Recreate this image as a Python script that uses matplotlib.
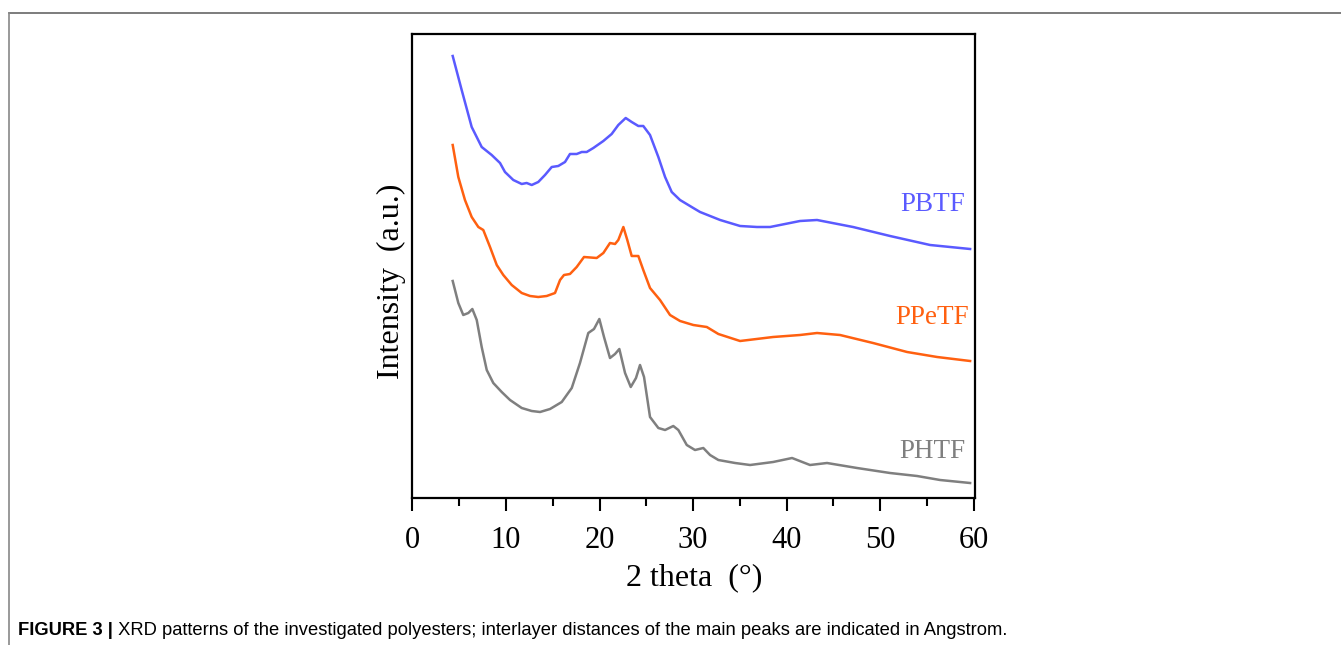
import matplotlib
matplotlib.use("Agg")
import matplotlib.pyplot as plt
from matplotlib.lines import Line2D
import numpy as np

# XRD patterns (2 theta in degrees, intensity in a.u. with offsets)
x_pbtf = [4.30, 5.26, 6.33, 7.40, 8.47, 9.36, 9.89, 10.78, 11.68, 12.21, 12.75, 13.45,
          14.17, 14.89, 15.59, 16.31, 16.84, 17.56, 18.10, 18.63, 19.34, 20.41, 21.30,
          22.01, 22.80, 23.44, 24.15, 24.68, 25.40, 26.29, 27.01, 27.72, 28.61, 30.03,
          30.75, 32.90, 35.03, 36.84, 38.24, 41.44, 43.26, 47.11, 51.07, 55.35, 59.63]
y_pbtf = [442, 408, 371, 351, 343, 335, 326, 318, 314, 315, 313, 316,
          323, 331, 332, 336, 344, 344, 346, 346, 350, 357, 364,
          373, 380, 376, 372, 372, 363, 341, 321, 306, 298, 290,
          286, 278, 272, 271, 271, 277, 278, 271, 262, 253, 249]

x_ppetf = [4.30, 4.90, 5.61, 6.33, 7.04, 7.57, 8.29, 9.01, 9.71, 10.61, 11.68, 12.57,
           13.45, 14.35, 15.24, 15.78, 16.20, 16.84, 17.56, 18.34, 19.70, 20.41, 21.12,
           21.66, 22.01, 22.55, 22.97, 23.44, 24.15, 24.68, 25.40, 26.47, 27.54, 28.61,
           30.03, 31.47, 32.71, 35.03, 38.56, 41.44, 43.26, 45.72, 49.25, 52.89, 56.10,
           59.63]
y_ppetf = [353, 321, 298, 281, 271, 268, 251, 233, 223, 213, 205, 202,
           201, 202, 205, 218, 223, 224, 231, 241, 240, 245, 255,
           254, 258, 271, 258, 242, 242, 228, 210, 198, 183, 177,
           173, 171, 164, 157, 161, 163, 165, 163, 155, 146, 141,
           137]

x_phtf = [4.30, 4.90, 5.43, 5.97, 6.40, 6.87, 7.40, 7.94, 8.64, 9.54, 10.43, 11.68,
          12.75, 13.64, 14.71, 15.96, 17.03, 17.91, 18.80, 19.41, 19.98, 20.48, 21.12,
          21.66, 22.12, 22.73, 23.34, 23.90, 24.33, 24.76, 25.40, 26.29, 27.01, 27.89,
          28.43, 29.33, 30.21, 31.10, 31.82, 32.71, 34.50, 36.10, 38.56, 40.59, 42.51,
          44.33, 47.54, 51.07, 53.96, 56.42, 59.63]
y_phtf = [217, 195, 183, 185, 189, 178, 151, 128, 115, 106, 98, 90,
          87, 86, 89, 96, 110, 135, 165, 169, 179, 161, 140,
          144, 149, 125, 111, 120, 133, 121, 81, 70, 68, 72,
          68, 53, 48, 50, 43, 38, 35, 33, 36, 40, 33,
          35, 30, 25, 22, 18, 15]

names = ["PBTF", "PPeTF", "PHTF"]
colors = ["#5a5aff", "#ff6010", "#7f7f7f"]
label_y = [293, 180, 47]

serif = ["Liberation Serif", "DejaVu Serif"]
sans = ["Liberation Sans", "DejaVu Sans"]

fig = plt.figure(figsize=(13.41, 6.45), dpi=100)
ax = fig.add_axes([0.3076, 0.2279, 0.4198, 0.7194])

for xs, ys, c in zip([x_pbtf, x_ppetf, x_phtf], [y_pbtf, y_ppetf, y_phtf], colors):
    ax.plot(xs, ys, color=c, lw=1.8, solid_joinstyle="round")

for name, c, ly in zip(names, colors, label_y):
    ax.text(55.6, ly, name, color=c, fontsize=19.5, family=serif, ha="center", va="center")

ax.set_xlim(0, 60.2)
ax.set_ylim(0, 464)
ax.set_xticks(np.arange(0, 61, 10))
ax.set_xticks(np.arange(5, 60, 10), minor=True)
ax.set_yticks([])
ax.tick_params(axis="x", which="major", length=9, width=1.5, direction="out", pad=11)
ax.tick_params(axis="x", which="minor", length=6, width=1.5, direction="out")
for lab in ax.get_xticklabels():
    lab.set_family(serif)
    lab.set_fontsize(22)
for s in ax.spines.values():
    s.set_linewidth(1.6)
ax.set_xlabel("2 theta  (°)", fontsize=23, family=serif, labelpad=6)
ax.set_ylabel("Intensity  (a.u.)", fontsize=23, family=serif)
ax.yaxis.set_label_coords(-0.012, 0.466)

# frame lines of the figure panel
fig.add_artist(Line2D([9 / 1341, 1], [1 - 13 / 645, 1 - 13 / 645], color="#666666", lw=1.2))
fig.add_artist(Line2D([9 / 1341, 9 / 1341], [0, 1 - 13 / 645], color="#888888", lw=1.2))

# caption
t1 = fig.text(18 / 1341, 10 / 645, "FIGURE 3 |", fontsize=13.2, fontweight="bold",
              family=sans, va="baseline")
ax.annotate(" XRD patterns of the investigated polyesters; interlayer distances of the main peaks are indicated in Angstrom.",
            xy=(1, 0), xycoords=t1, va="bottom", fontsize=13.2,
            family=sans, annotation_clip=False)

fig.savefig("out.png", dpi=100)
